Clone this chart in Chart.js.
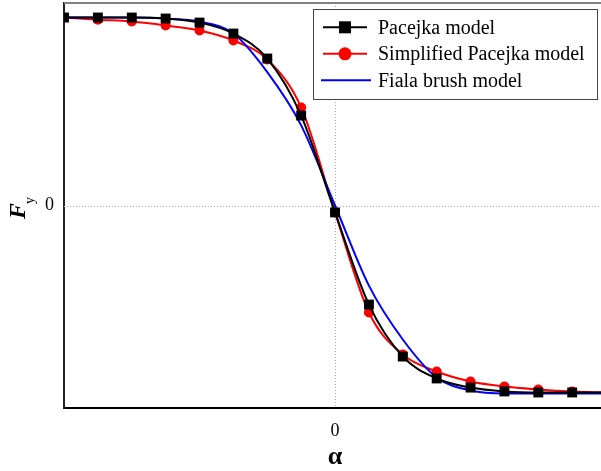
<!DOCTYPE html>
<html>
<head>
<meta charset="utf-8">
<script src="https://cdn.jsdelivr.net/npm/chart.js@4.4.0/dist/chart.umd.min.js"></script>
<style>
    html, body { margin: 0; padding: 0; background: #fff; }
    #wrap { width: 601px; height: 471px; }
</style>
</head>
<body>
<div id="wrap"><canvas id="myChart" width="601" height="471"></canvas></div>
<script>
// slip angle values (markers every 1 unit, last point only on the curve)
var alpha = [-8, -7, -6, -5, -4, -3, -2, -1, 0, 1, 2, 3, 4, 5, 6, 7, 8];

// lateral force
var pacejka    = [1.114, 1.114, 1.114, 1.108, 1.084, 1.019, 0.871, 0.533, -0.041, -0.587, -0.895, -1.025, -1.079, -1.102, -1.108, -1.108, -1.108];
var simplified = [1.114, 1.101, 1.090, 1.067, 1.037, 0.978, 0.865, 0.581, -0.041, -0.634, -0.883, -0.984, -1.043, -1.073, -1.090, -1.102, -1.108];
var fiala      = [1.114, 1.114, 1.114, 1.108, 1.090, 1.019, 0.790, 0.475, 0.000, -0.475, -0.794, -1.019, -1.096, -1.114, -1.114, -1.114, -1.114];

var xTicks = [0];
var yTicks = [0];
var seriesNames = ['Pacejka model', 'Simplified Pacejka model', 'Fiala brush model'];

var SERIF = '"Liberation Serif", "Times New Roman", serif';

function toPoints(ys) {
    return alpha.map(function (a, i) { return { x: a, y: ys[i] }; });
}

function noPad(axis) {
    axis.paddingTop = 0;
    axis.paddingBottom = 0;
    axis.paddingLeft = 0;
    axis.paddingRight = 0;
}

var framePlugin = {
    id: 'frame',
    beforeDatasetsDraw: function (chart) {
        var ctx = chart.ctx, area = chart.chartArea;
        var x0 = Math.round(chart.scales.x.getPixelForValue(0)) + 0.5;
        var y0 = Math.round(chart.scales.y.getPixelForValue(0)) + 0.5;
        ctx.save();
        ctx.strokeStyle = '#aaaaaa';
        ctx.lineWidth = 1;
        ctx.setLineDash([1, 2]);
        ctx.beginPath();
        ctx.moveTo(x0, area.top);
        ctx.lineTo(x0, area.bottom);
        ctx.moveTo(area.left, y0);
        ctx.lineTo(area.right, y0);
        ctx.stroke();
        ctx.restore();
    },
    afterDraw: function (chart) {
        var ctx = chart.ctx, area = chart.chartArea;
        ctx.save();
        // top spine
        ctx.strokeStyle = '#808080';
        ctx.lineWidth = 2;
        ctx.beginPath();
        ctx.moveTo(area.left, area.top);
        ctx.lineTo(area.right, area.top);
        ctx.stroke();

        // legend
        ctx.fillStyle = '#fff';
        ctx.fillRect(313, 9, 284, 90);
        ctx.strokeStyle = '#444';
        ctx.lineWidth = 1;
        ctx.strokeRect(313.5, 9.5, 284, 90);
        var colors = ['#000000', '#ff0000', '#0000ff'];
        for (var i = 0; i < 3; i++) {
            var ry = 27.3 + i * 26.5;
            ctx.strokeStyle = colors[i];
            ctx.lineWidth = 2;
            ctx.beginPath();
            if (i == 2) { ctx.moveTo(321, ry); ctx.lineTo(371, ry); }
            else { ctx.moveTo(323, ry); ctx.lineTo(367, ry); }
            ctx.stroke();
            ctx.fillStyle = colors[i];
            if (i == 0) ctx.fillRect(339, ry - 6, 12, 12);
            if (i == 1) { ctx.beginPath(); ctx.arc(345, ry, 6.5, 0, Math.PI * 2); ctx.fill(); }
            ctx.fillStyle = '#000';
            ctx.font = '20px ' + SERIF;
            ctx.textAlign = 'left';
            ctx.textBaseline = 'alphabetic';
            ctx.fillText(seriesNames[i], 378, ry + 6.6);
        }

        // x title
        ctx.font = 'bold 26px ' + SERIF;
        ctx.textAlign = 'center';
        ctx.fillText('\u03b1', 335, 464);

        // y title, rotated with subscript
        ctx.translate(25, 219);
        ctx.rotate(-Math.PI / 2);
        ctx.textAlign = 'left';
        ctx.font = 'bold italic 24px ' + SERIF;
        ctx.fillText('F', 0, 0);
        var w = ctx.measureText('F').width;
        ctx.font = '14px ' + SERIF;
        ctx.fillText('y', w - 1, 9);
        ctx.restore();
    }
};

var ctx = document.getElementById('myChart');

window.myLine = new Chart(ctx, {
    type: 'line',
    data: {
        datasets: [{
            label: seriesNames[0],
            data: toPoints(pacejka),
            borderColor: '#000000',
            backgroundColor: '#000000',
            borderWidth: 2,
            pointStyle: 'rect',
            pointRadius: alpha.map(function (a, i) { return i < alpha.length - 1 ? 7 : 0; }),
            pointBorderWidth: 0,
            cubicInterpolationMode: 'monotone',
            order: 1
        }, {
            label: seriesNames[1],
            data: toPoints(simplified),
            borderColor: '#ff0000',
            backgroundColor: '#ff0000',
            borderWidth: 2,
            pointStyle: 'circle',
            pointRadius: alpha.map(function (a, i) { return i < alpha.length - 1 ? 5 : 0; }),
            pointBorderWidth: 0,
            cubicInterpolationMode: 'monotone',
            order: 3
        }, {
            label: seriesNames[2],
            data: toPoints(fiala),
            borderColor: '#0000ff',
            backgroundColor: '#0000ff',
            borderWidth: 2,
            pointRadius: 0,
            cubicInterpolationMode: 'monotone',
            order: 2
        }]
    },
    options: {
        responsive: false,
        animation: false,
        devicePixelRatio: 1,
        layout: { autoPadding: false, padding: { top: 3, right: 0, left: 0, bottom: 0 } },
        plugins: { legend: { display: false }, tooltip: { enabled: false } },
        scales: {
            x: {
                type: 'linear',
                min: -8,
                max: 7.85,
                grid: { display: false, drawTicks: false },
                border: { display: true, color: '#000', width: 2 },
                ticks: { color: '#000', font: { family: SERIF, size: 18 }, padding: 12, maxRotation: 0 },
                afterBuildTicks: function (axis) { axis.ticks = xTicks.map(function (v) { return { value: v }; }); },
                afterFit: function (axis) { axis.height = 63; noPad(axis); }
            },
            y: {
                type: 'linear',
                min: -1.2,
                max: 1.2,
                grid: { display: false, drawTicks: false },
                border: { display: true, color: '#222', width: 2 },
                ticks: { color: '#000', font: { family: SERIF, size: 18 }, padding: 10 },
                afterBuildTicks: function (axis) { axis.ticks = yTicks.map(function (v) { return { value: v }; }); },
                afterFit: function (axis) { axis.width = 64; noPad(axis); }
            }
        }
    },
    plugins: [framePlugin]
});
</script>
</body>
</html>
